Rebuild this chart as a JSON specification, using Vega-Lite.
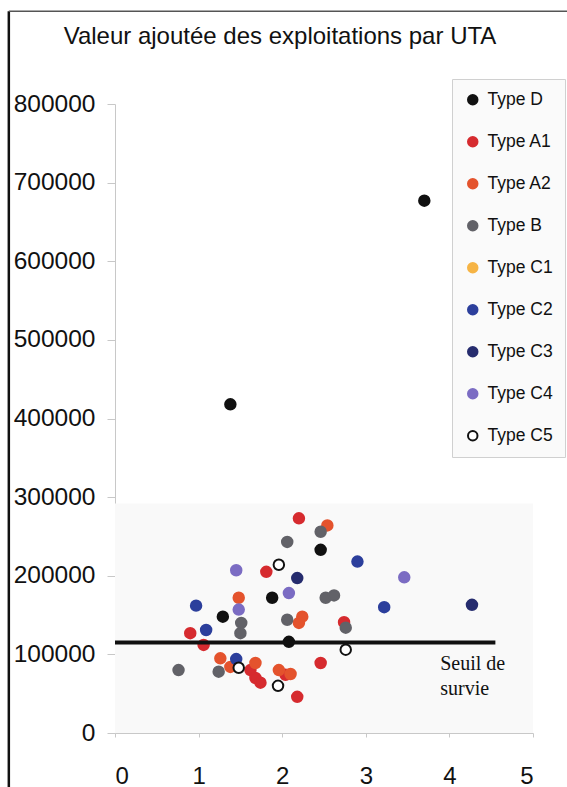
{
  "$schema": "https://vega.github.io/schema/vega-lite/v6.json",
  "width": 418,
  "height": 629,
  "autosize": "none",
  "padding": {"left": 115, "top": 104, "right": 34, "bottom": 54},
  "background": "white",
  "config": {"font": "Liberation Sans", "view": {"stroke": null}},
  "title": {
    "text": "Valeur ajoutée des exploitations par UTA",
    "fontSize": 24,
    "fontWeight": "normal",
    "font": "Liberation Sans",
    "color": "#111111",
    "anchor": "middle",
    "frame": "group",
    "baseline": "alphabetic",
    "dx": -44,
    "offset": -58
  },
  "datasets": {
    "exploitations": [
      {"type": "Type D", "uta": 3.70, "va": 677000},
      {"type": "Type D", "uta": 1.38, "va": 418000},
      {"type": "Type D", "uta": 2.46, "va": 233000},
      {"type": "Type D", "uta": 1.88, "va": 172000},
      {"type": "Type D", "uta": 1.29, "va": 148000},
      {"type": "Type D", "uta": 2.08, "va": 116000},
      {"type": "Type A1", "uta": 2.20, "va": 273000},
      {"type": "Type A1", "uta": 1.81, "va": 205000},
      {"type": "Type A1", "uta": 2.74, "va": 141000},
      {"type": "Type A1", "uta": 2.46, "va": 89000},
      {"type": "Type A1", "uta": 2.18, "va": 46000},
      {"type": "Type A1", "uta": 0.90, "va": 127000},
      {"type": "Type A1", "uta": 1.06, "va": 112000},
      {"type": "Type A1", "uta": 1.62, "va": 80000},
      {"type": "Type A1", "uta": 1.68, "va": 70000},
      {"type": "Type A1", "uta": 2.04, "va": 74000},
      {"type": "Type A1", "uta": 1.74, "va": 64000},
      {"type": "Type A2", "uta": 2.54, "va": 264000},
      {"type": "Type A2", "uta": 1.48, "va": 172000},
      {"type": "Type A2", "uta": 2.24, "va": 148000},
      {"type": "Type A2", "uta": 2.20, "va": 140000},
      {"type": "Type A2", "uta": 1.26, "va": 95000},
      {"type": "Type A2", "uta": 1.38, "va": 84000},
      {"type": "Type A2", "uta": 1.68, "va": 89000},
      {"type": "Type A2", "uta": 1.96, "va": 80000},
      {"type": "Type A2", "uta": 2.10, "va": 75000},
      {"type": "Type B", "uta": 2.46, "va": 256000},
      {"type": "Type B", "uta": 2.06, "va": 243000},
      {"type": "Type B", "uta": 2.52, "va": 172000},
      {"type": "Type B", "uta": 2.62, "va": 175000},
      {"type": "Type B", "uta": 2.06, "va": 144000},
      {"type": "Type B", "uta": 2.76, "va": 134000},
      {"type": "Type B", "uta": 0.76, "va": 80000},
      {"type": "Type B", "uta": 1.24, "va": 78000},
      {"type": "Type B", "uta": 1.50, "va": 127000},
      {"type": "Type B", "uta": 1.51, "va": 140000},
      {"type": "Type C2", "uta": 0.97, "va": 162000},
      {"type": "Type C2", "uta": 1.09, "va": 131000},
      {"type": "Type C2", "uta": 2.90, "va": 218000},
      {"type": "Type C2", "uta": 3.22, "va": 160000},
      {"type": "Type C2", "uta": 1.45, "va": 94000},
      {"type": "Type C3", "uta": 2.18, "va": 197000},
      {"type": "Type C3", "uta": 4.27, "va": 163000},
      {"type": "Type C4", "uta": 1.45, "va": 207000},
      {"type": "Type C4", "uta": 1.48, "va": 157000},
      {"type": "Type C4", "uta": 2.08, "va": 178000},
      {"type": "Type C4", "uta": 3.46, "va": 198000},
      {"type": "Type C5", "uta": 1.96, "va": 214000},
      {"type": "Type C5", "uta": 2.76, "va": 106000},
      {"type": "Type C5", "uta": 1.95, "va": 60000},
      {"type": "Type C5", "uta": 1.48, "va": 83000}
    ],
    "seuil": [{"label": "Seuil de\nsurvie", "va": 115000}],
    "cadre": [{}]
  },
  "layer": [
    {
      "data": {"name": "cadre"},
      "mark": {"type": "rect", "fill": "#f9f9f9", "clip": false},
      "encoding": {
        "x": {"datum": 0, "type": "quantitative", "scale": {"domain": [0, 5]}},
        "x2": {"datum": 5},
        "y": {"datum": 0, "type": "quantitative", "scale": {"domain": [0, 800000]}},
        "y2": {"datum": 292000}
      }
    },
    {
      "data": {"name": "cadre"},
      "mark": {"type": "rule", "stroke": "#111111", "strokeWidth": 2.5, "clip": false},
      "encoding": {
        "x": {"datum": -1.27, "type": "quantitative"},
        "y": {"datum": -70000, "type": "quantitative"},
        "y2": {"datum": 918000}
      }
    },
    {
      "data": {"name": "cadre"},
      "mark": {"type": "rule", "stroke": "#555555", "strokeWidth": 1.5, "clip": false},
      "encoding": {
        "x": {"datum": -1.27, "type": "quantitative"},
        "x2": {"datum": 5.45},
        "y": {"datum": 918000, "type": "quantitative"}
      }
    },
    {
      "data": {"name": "exploitations"},
      "mark": {"type": "point", "filled": true, "size": 110, "strokeWidth": 2, "opacity": 1},
      "encoding": {
        "x": {
          "field": "uta", "type": "quantitative",
          "scale": {"domain": [0, 5]},
          "axis": {
            "values": [0, 1, 2, 3, 4, 5], "format": "d", "title": null, "grid": false,
            "labelFontSize": 24, "labelColor": "#111111", "labelPadding": 27,
            "domainColor": "#c8c8c8", "tickColor": "#c8c8c8", "tickSize": 4
          }
        },
        "y": {
          "field": "va", "type": "quantitative",
          "scale": {"domain": [0, 800000]},
          "axis": {
            "values": [0, 100000, 200000, 300000, 400000, 500000, 600000, 700000, 800000],
            "format": "d", "title": null, "grid": false,
            "labelFontSize": 24.5, "labelColor": "#111111", "labelPadding": 12,
            "domainColor": "#c8c8c8", "tickColor": "#c8c8c8", "tickSize": 8
          }
        },
        "fill": {
          "field": "type", "type": "nominal",
          "scale": {
            "domain": ["Type D", "Type A1", "Type A2", "Type B", "Type C1", "Type C2", "Type C3", "Type C4", "Type C5"],
            "range": ["#111111", "#d62b2f", "#e4532d", "#626268", "#f6b445", "#2c3f9c", "#262c6e", "#7b6cc3", "#ffffff"]
          },
          "legend": {
            "title": null, "orient": "none", "legendX": 337, "legendY": -25,
            "padding": 12, "rowPadding": 23, "labelFontSize": 17.5, "labelColor": "#111111",
            "symbolSize": 90, "symbolStrokeWidth": 2, "labelOffset": 6,
            "fillColor": "#fafafa", "strokeColor": "#d0d0d0"
          }
        },
        "stroke": {
          "field": "type", "type": "nominal",
          "scale": {
            "domain": ["Type D", "Type A1", "Type A2", "Type B", "Type C1", "Type C2", "Type C3", "Type C4", "Type C5"],
            "range": ["#111111", "#d62b2f", "#e4532d", "#626268", "#f6b445", "#2c3f9c", "#262c6e", "#7b6cc3", "#111111"]
          },
          "legend": {
            "title": null, "orient": "none", "legendX": 337, "legendY": -25,
            "padding": 12, "rowPadding": 23, "labelFontSize": 17.5, "labelColor": "#111111",
            "symbolSize": 90, "symbolStrokeWidth": 2, "labelOffset": 6,
            "fillColor": "#fafafa", "strokeColor": "#d0d0d0"
          }
        }
      }
    },
    {
      "data": {"name": "seuil"},
      "mark": {"type": "rule", "stroke": "#111111", "strokeWidth": 4},
      "encoding": {
        "x": {"datum": 0, "type": "quantitative"},
        "x2": {"datum": 4.55},
        "y": {"field": "va", "type": "quantitative"}
      }
    },
    {
      "data": {"name": "seuil"},
      "mark": {
        "type": "text", "font": "Liberation Serif", "fontSize": 20, "align": "left",
        "baseline": "middle", "lineBreak": "\n", "lineHeight": 25, "color": "#111111"
      },
      "encoding": {
        "x": {"datum": 3.89, "type": "quantitative"},
        "y": {"datum": 87500, "type": "quantitative"},
        "text": {"field": "label"}
      }
    }
  ]
}
